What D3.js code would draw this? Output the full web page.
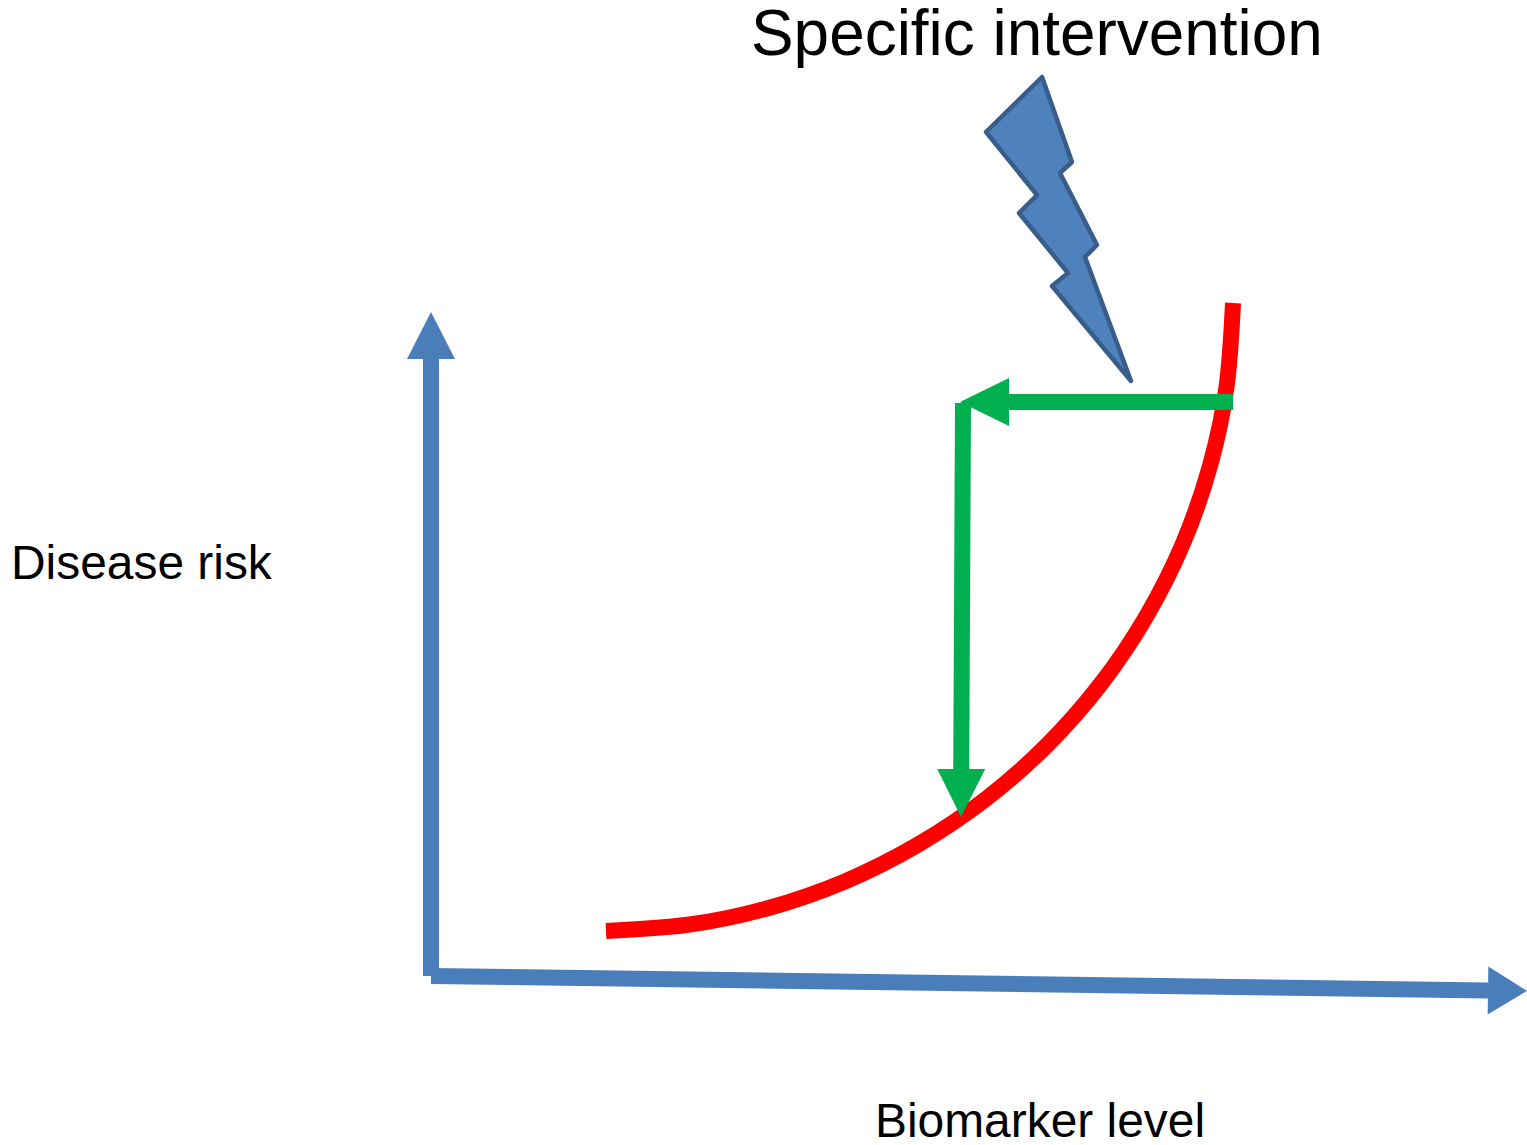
<!DOCTYPE html>
<html>
<head>
<meta charset="utf-8">
<script src="https://cdn.jsdelivr.net/npm/d3@7"></script>
<style>
  body { margin: 0; background: #fff; }
  svg { display: block; }
  text { font-family: "Liberation Sans", Arial, sans-serif; fill: #000; }
</style>
</head>
<body>
<script>
//values, in units along the two axes (origin = where the axes meet)
const curve_biomarker = [174, 255.7, 335.9, 413.2, 486.2, 553.9, 615.2, 669.2, 714.7, 751.4, 778.2, 794.8, 801];
const curve_risk = [46, 52.2, 68.8, 95.7, 132.5, 178, 232, 293.5, 361.3, 434.5, 511.9, 592.1, 674];

const drop_biomarker = [801, 530, 530];
const drop_risk = [575, 575, 160];

//lightning bolt outline
const bolt_biomarker = [610, 640, 628, 665, 653, 699, 620, 636, 587, 605, 554];
const bolt_risk = [900, 815, 804, 732, 720, 596, 691, 704, 764, 782, 845];

const title_text = "Specific intervention";
const x_label = "Biomarker level";
const y_label = "Disease risk";

//visual setup
const width = 1527;
const height = 1145;
const x = d3.scaleLinear().domain([0, 1095]).range([432, 1527]);
const y = d3.scaleLinear().domain([0, 665]).range([977, 312]);
const line = d3.line().x(d => x(d[0])).y(d => y(d[1]));

let svgContainer = d3.select("body").append("svg")
  .attr("width", width)
  .attr("height", height);

//red risk curve
svgContainer.append("path")
  .attr("d", line.curve(d3.curveNatural)(d3.zip(curve_biomarker, curve_risk)))
  .attr("fill", "none")
  .attr("stroke", "#ff0000")
  .attr("stroke-width", 16);
line.curve(d3.curveLinear);

//draws a straight shaft with a triangular head on the end
function arrow(x1, y1, x2, y2, colour, headLength){
  let angle = Math.atan2(y2 - y1, x2 - x1);
  let ux = Math.cos(angle), uy = Math.sin(angle);
  let baseX = x2 - ux * headLength, baseY = y2 - uy * headLength;
  svgContainer.append("line")
    .attr("x1", x1).attr("y1", y1)
    .attr("x2", baseX).attr("y2", baseY)
    .attr("stroke", colour)
    .attr("stroke-width", 16);
  svgContainer.append("polygon")
    .attr("points", [
      [x2, y2],
      [baseX - uy * 24, baseY + ux * 24],
      [baseX + uy * 24, baseY - ux * 24]
    ].join(" "))
    .attr("fill", colour);
}

//axes
const axisColour = "#4a7ebb";
arrow(x(-1), y(1), x(-1), y(665), axisColour, 47);
arrow(x(-1), y(1), x(1095), y(-14), axisColour, 39);

//green route from the curve, across and down
const greenColour = "#00b050";
arrow(x(drop_biomarker[0]), y(drop_risk[0]), x(drop_biomarker[1] - 2), y(drop_risk[1]), greenColour, 49);
arrow(x(drop_biomarker[1]) + 1, y(drop_risk[1] - 1), x(drop_biomarker[2] - 1), y(drop_risk[2]), greenColour, 48);

//lightning bolt
svgContainer.append("path")
  .attr("d", line(d3.zip(bolt_biomarker, bolt_risk)) + "Z")
  .attr("fill", "#4f81bd")
  .attr("stroke", "#385d8a")
  .attr("stroke-width", 4.5)
  .attr("stroke-linejoin", "round");

//labels
svgContainer.append("text").attr("x", 751).attr("y", 55).attr("font-size", 63.9).text(title_text);
svgContainer.append("text").attr("x", 11).attr("y", 579).attr("font-size", 47.9).text(y_label);
svgContainer.append("text").attr("x", 875).attr("y", 1137).attr("font-size", 47.9).text(x_label);
</script>
</body>
</html>
